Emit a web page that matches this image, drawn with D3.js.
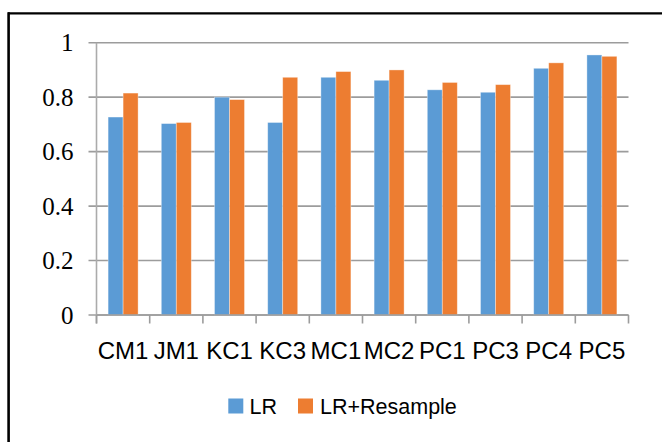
<!DOCTYPE html>
<html>
<head>
<meta charset="utf-8">
<script src="https://cdn.jsdelivr.net/npm/d3@7"></script>
<style>
  html, body { margin: 0; padding: 0; background: #fff; }
  svg { display: block; }
</style>
</head>
<body>
<svg id="chart" width="662" height="442"></svg>
<script>
const categories = ["CM1", "JM1", "KC1", "KC3", "MC1", "MC2", "PC1", "PC3", "PC4", "PC5"];
const seriesNames = ["LR", "LR+Resample"];
const lrValues = [0.727, 0.703, 0.800, 0.707, 0.873, 0.862, 0.827, 0.818, 0.906, 0.955];
const resampleValues = [0.815, 0.707, 0.791, 0.873, 0.894, 0.900, 0.854, 0.846, 0.926, 0.950];
const yTicks = [0, 0.2, 0.4, 0.6, 0.8, 1];
const colors = ["#5B9BD5", "#ED7D31"];

(function () {
const svg = d3.select("#chart");

// frame
svg.append("line").attr("x1", 8).attr("x2", 662).attr("y1", 13.3).attr("y2", 13.3)
  .attr("stroke", "#000").attr("stroke-width", 2.2);
svg.append("line").attr("x1", 8.6).attr("x2", 8.6).attr("y1", 12.2).attr("y2", 442)
  .attr("stroke", "#000").attr("stroke-width", 2.6);

const plotL = 96.5, plotR = 628.5, plotT = 42.7, plotB = 315;
const x0 = d3.scaleBand().domain(categories).range([plotL, plotR]).padding(0);
const bw = x0.bandwidth();
const gw = bw * 0.564;
const x1 = d3.scaleBand().domain(seriesNames).range([(bw - gw) / 2, (bw + gw) / 2]).padding(0);
const y = d3.scaleLinear().domain([0, 1]).range([plotB, plotT]);

// gridlines
svg.append("g").selectAll("line").data(yTicks).join("line")
  .attr("x1", 88.5).attr("x2", plotR)
  .attr("y1", d => y(d)).attr("y2", d => y(d))
  .attr("stroke", "#9c9c9c").attr("stroke-width", 1.6);

// y tick labels
svg.append("g").selectAll("text").data(yTicks).join("text")
  .attr("x", 73.5).attr("y", d => y(d) + 8.6)
  .attr("text-anchor", "end")
  .style("font-family", "'Liberation Serif', 'Times New Roman', 'DejaVu Serif', serif")
  .style("font-size", "25px")
  .attr("fill", "#000")
  .text(d => d3.format("~g")(d));

// bars
const table = categories.map((c, i) => ({ cat: c, vals: [lrValues[i], resampleValues[i]] }));
const groups = svg.append("g").selectAll("g").data(table).join("g")
  .attr("transform", d => `translate(${x0(d.cat)},0)`);
groups.selectAll("rect").data(d => d.vals.map((v, j) => ({ name: seriesNames[j], v, j })))
  .join("rect")
  .attr("x", d => x1(d.name))
  .attr("width", x1.bandwidth())
  .attr("y", d => y(d.v))
  .attr("height", d => y(0) - y(d.v))
  .attr("fill", d => colors[d.j])
  .attr("stroke", "rgba(255,255,255,0.45)")
  .attr("stroke-width", 0.8);

// y axis line
svg.append("line").attr("x1", plotL).attr("x2", plotL).attr("y1", plotT).attr("y2", 323.5)
  .attr("stroke", "#ababab").attr("stroke-width", 1.6);
// x axis line
svg.append("line").attr("x1", plotL).attr("x2", plotR).attr("y1", plotB).attr("y2", plotB)
  .attr("stroke", "#9c9c9c").attr("stroke-width", 1.6);
// x ticks at category boundaries
const boundaries = categories.map(c => x0(c)).concat([plotR]);
svg.append("g").selectAll("line").data(boundaries).join("line")
  .attr("x1", d => d).attr("x2", d => d).attr("y1", plotB).attr("y2", 323.5)
  .attr("stroke", "#9c9c9c").attr("stroke-width", 1.6);

// x labels
svg.append("g").selectAll("text").data(categories).join("text")
  .attr("x", d => x0(d) + bw / 2).attr("y", 358.5)
  .attr("text-anchor", "middle")
  .style("font-family", "'Liberation Sans', Arial, sans-serif")
  .style("font-size", "24px")
  .attr("fill", "#000")
  .text(d => d);

// legend
const legendItems = [
  { name: seriesNames[0], sx: 228.3, tx: 249.5 },
  { name: seriesNames[1], sx: 298, tx: 320 }
];
const lg = svg.append("g");
lg.selectAll("rect").data(legendItems).join("rect")
  .attr("x", d => d.sx).attr("y", 398.5).attr("width", 15).attr("height", 15)
  .attr("fill", (d, i) => colors[i]);
lg.selectAll("text").data(legendItems).join("text")
  .attr("x", d => d.tx).attr("y", 413.5)
  .style("font-family", "'Liberation Sans', Arial, sans-serif")
  .style("font-size", "21.5px")
  .attr("fill", "#000")
  .text(d => d.name);
})();
</script>
</body>
</html>
